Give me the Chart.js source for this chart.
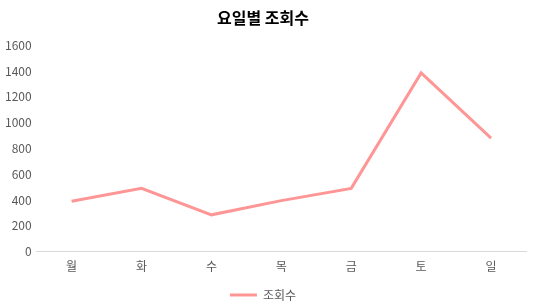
<!DOCTYPE html>
<html>
<head>
<meta charset="utf-8">
<script src="https://cdn.jsdelivr.net/npm/chart.js@4"></script>
<style>
html,body{margin:0;padding:0;background:#fff;}
#wrap{width:534px;height:308px;}
</style>
</head>
<body>
<div id="wrap"><canvas id="c" width="534" height="308"></canvas></div>
<script>
const categories = ['월','화','수','목','금','토','일'];
const views = [390, 490, 285, 395, 490, 1385, 880];
const yTicks = [0, 200, 400, 600, 800, 1000, 1200, 1400, 1600];
const seriesName = '조회수';
const titleText = '요일별 조회수';

const font = "'Noto Sans CJK KR', 'Noto Sans', sans-serif";
new Chart(document.getElementById('c'), {
  type: 'line',
  data: {
    labels: categories,
    datasets: [{
      label: seriesName,
      data: views,
      borderColor: '#FF9696',
      backgroundColor: '#FF9696',
      borderWidth: 3,
      pointRadius: 0,
      tension: 0
    }]
  },
  options: {
    responsive: false,
    animation: false,
    layout: { padding: { left: 0, right: 8, top: 6, bottom: -3 } },
    plugins: {
      title: {
        display: true,
        text: titleText,
        color: '#000',
        font: { family: font, size: 16, weight: 'bold' },
        padding: { top: 2, bottom: 18 }
      },
      legend: {
        position: 'bottom',
        labels: {
          usePointStyle: true,
          pointStyle: 'line',
          pointStyleWidth: 27,
          color: '#595959',
          font: { family: font, size: 12 },
          padding: 7,
          boxHeight: 12
        }
      },
      tooltip: { enabled: false }
    },
    scales: {
      x: {
        offset: true,
        grid: { display: false, drawTicks: false },
        border: { display: true, color: '#D9D9D9', width: 1 },
        ticks: { color: '#595959', font: { family: font, size: 12 }, padding: 8 }
      },
      y: {
        min: 0,
        max: 1600,
        afterBuildTicks: (axis) => { axis.ticks = yTicks.map(v => ({ value: v })); },
        grid: { display: false, drawTicks: false },
        border: { display: false },
        ticks: { color: '#595959', font: { family: font, size: 12 }, padding: 5,
                 callback: (v) => String(v) }
      }
    }
  }
});
</script>
</body>
</html>
